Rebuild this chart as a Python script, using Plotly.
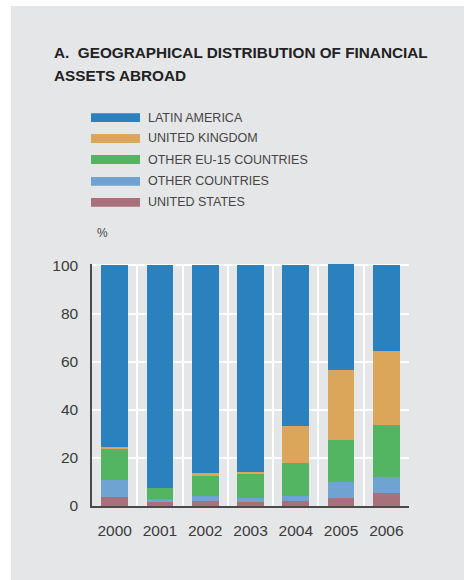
import plotly.graph_objects as go

# Geographical distribution of financial assets abroad (% of total)
years = ["2000", "2001", "2002", "2003", "2004", "2005", "2006"]
united_states = [3.6, 1.5, 2.2, 1.5, 2.2, 3.2, 5.5]
other_countries = [7.3, 1.5, 2.1, 2.0, 2.1, 6.6, 6.7]
other_eu15 = [12.9, 4.6, 8.3, 10.0, 13.4, 17.8, 21.6]
united_kingdom = [0.8, 0.0, 1.2, 0.5, 15.7, 28.9, 30.6]
latin_america = [75.4, 92.4, 86.2, 86.0, 66.6, 44.4, 35.6]

y_ticks = [0, 20, 40, 60, 80, 100]

# stacked bottom to top
series = [
    ("UNITED STATES", united_states, "#a8707a"),
    ("OTHER COUNTRIES", other_countries, "#6fa3d2"),
    ("OTHER EU-15 COUNTRIES", other_eu15, "#53b562"),
    ("UNITED KINGDOM", united_kingdom, "#dba65a"),
    ("LATIN AMERICA", latin_america, "#2a81be"),
]
legend_order = ["LATIN AMERICA", "UNITED KINGDOM", "OTHER EU-15 COUNTRIES",
                "OTHER COUNTRIES", "UNITED STATES"]
colors = {name: c for name, _, c in series}

W, H = 464, 580
ML, MR, MT, MB = 92, 55, 264, 74
PW, PH = W - ML - MR, H - MT - MB
BG = "#e5e6e8"


def px_x(x):
    return (x - ML) / PW


def px_y(y):
    return (H - MB - y) / PH


fig = go.Figure()
for name, vals, col in series:
    fig.add_trace(go.Bar(x=years, y=vals, name=name, marker_color=col,
                         marker_line_width=0, showlegend=False))

shapes = [
    # white margin strips around the grey panel
    dict(type="rect", xref="paper", yref="paper", x0=px_x(0), x1=px_x(11),
         y0=px_y(H), y1=px_y(0), fillcolor="white", line_width=0),
    dict(type="rect", xref="paper", yref="paper", x0=px_x(0), x1=px_x(W),
         y0=px_y(6), y1=px_y(0), fillcolor="white", line_width=0),
]
annotations = [
    dict(text="<b>A.\u00a0\u00a0GEOGRAPHICAL DISTRIBUTION OF FINANCIAL</b>",
         x=px_x(52), y=px_y(53)),
    dict(text="<b>ASSETS ABROAD</b>", x=px_x(52), y=px_y(75)),
]
for a in annotations:
    a.update(xref="paper", yref="paper", xanchor="left", yanchor="middle",
             showarrow=False, font=dict(size=15.3, color="#222222"))

row_y = [117.7, 138.5, 159.5, 181.3, 202.3]
for name, yc in zip(legend_order, row_y):
    shapes.append(dict(type="rect", xref="paper", yref="paper",
                       x0=px_x(91), x1=px_x(140),
                       y0=px_y(yc + 4.4), y1=px_y(yc - 4.4),
                       fillcolor=colors[name], line_width=0))
    annotations.append(dict(text=name, x=px_x(146), y=px_y(yc), xref="paper",
                            yref="paper", xanchor="left", yanchor="middle",
                            showarrow=False,
                            font=dict(size=12.5, color="#454545")))

annotations.append(dict(text="%", x=px_x(95), y=px_y(233), xref="paper",
                        yref="paper", xanchor="left", yanchor="middle",
                        showarrow=False, font=dict(size=12, color="#454545")))

fig.update_layout(
    width=W, height=H,
    margin=dict(l=ML, r=MR, t=MT, b=MB, pad=0),
    paper_bgcolor=BG, plot_bgcolor=BG,
    barmode="stack", bargap=0.41,
    font=dict(family="Liberation Sans, Arial, sans-serif", color="#3a3a3a"),
    shapes=shapes, annotations=annotations,
    xaxis=dict(type="category", tickson="boundaries", showgrid=True,
               gridcolor="white", gridwidth=2, showline=True,
               linecolor="#4a4a4a", linewidth=1.5, ticks="",
               tickfont=dict(size=15.5, color="#3a3a3a"),
               ticklabelstandoff=10, zeroline=False, fixedrange=True),
    yaxis=dict(range=[0, 100.6], tickvals=y_ticks, showgrid=True,
               gridcolor="white", gridwidth=2, showline=True,
               linecolor="#4a4a4a", linewidth=1.5, ticks="",
               tickfont=dict(size=15.5, color="#3a3a3a"),
               ticklabelstandoff=9, zeroline=False, fixedrange=True),
)

fig.write_html("out.html")
